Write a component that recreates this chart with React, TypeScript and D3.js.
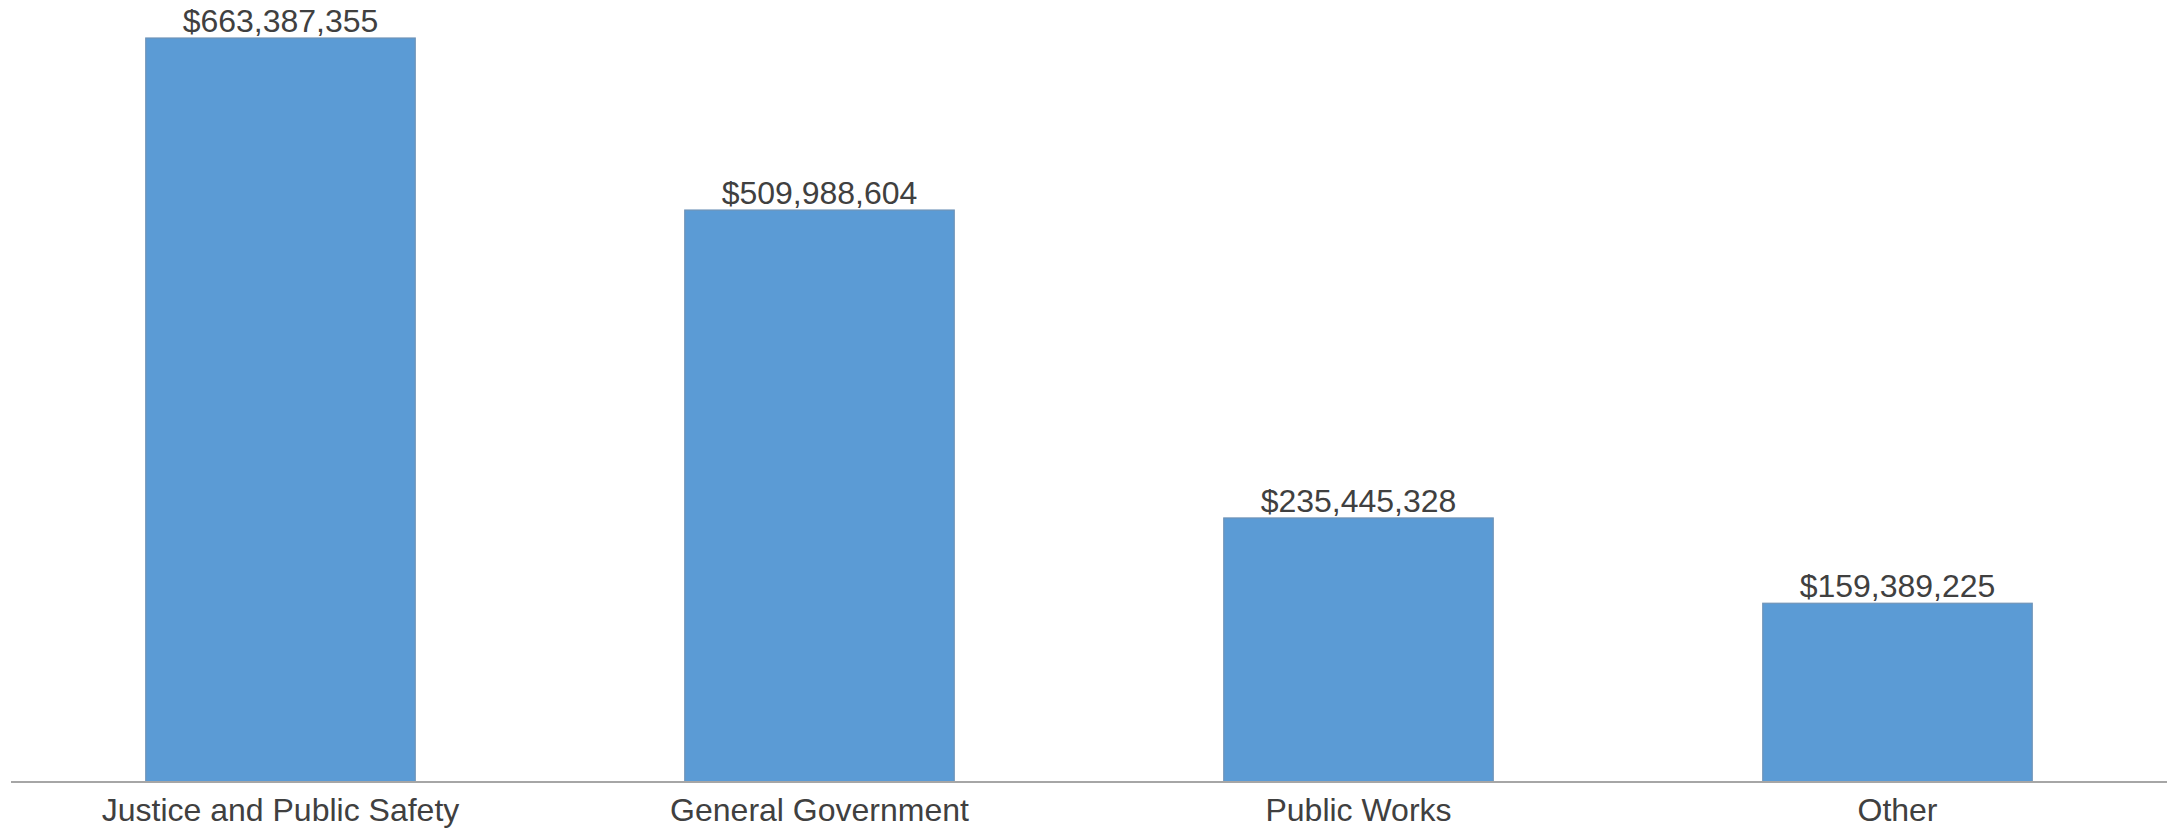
import React from "react";
import * as d3 from "d3";

const categories = ["Justice and Public Safety", "General Government", "Public Works", "Other"];
const values = [663387355, 509988604, 235445328, 159389225];

const W = 2177;
const H = 832;

export default function App() {
  const x = d3.scaleBand<string>().domain(categories).range([11, 2167]).paddingInner(0.5).paddingOuter(0.25);
  const y = d3.scaleLinear().domain([0, d3.max(values) as number]).range([782, 38]);
  const fmt = (v: number) => "$" + d3.format(",")(v);
  const font = "'Liberation Sans', Arial, sans-serif";
  return (
    <svg width={W} height={H} style={{ position: "absolute", left: 0, top: 0, background: "#fff" }}>
      {categories.map((c, i) => (
        <g key={c}>
          <rect
            x={x(c)}
            y={y(values[i])}
            width={x.bandwidth()}
            height={y(0) - y(values[i])}
            fill="#5b9bd5"
            stroke="#6f93b8"
            strokeWidth={1.2}
          />
          <text
            x={(x(c) as number) + x.bandwidth() / 2}
            y={y(values[i]) - 6}
            textAnchor="middle"
            fontFamily={font}
            fontSize={32}
            fill="#404040"
          >
            {fmt(values[i])}
          </text>
          <text
            x={(x(c) as number) + x.bandwidth() / 2}
            y={821}
            textAnchor="middle"
            fontFamily={font}
            fontSize={32}
            fill="#404040"
          >
            {c}
          </text>
        </g>
      ))}
      <line x1={11} x2={2167} y1={782} y2={782} stroke="#a6a6a6" strokeWidth={2} />
    </svg>
  );
}
